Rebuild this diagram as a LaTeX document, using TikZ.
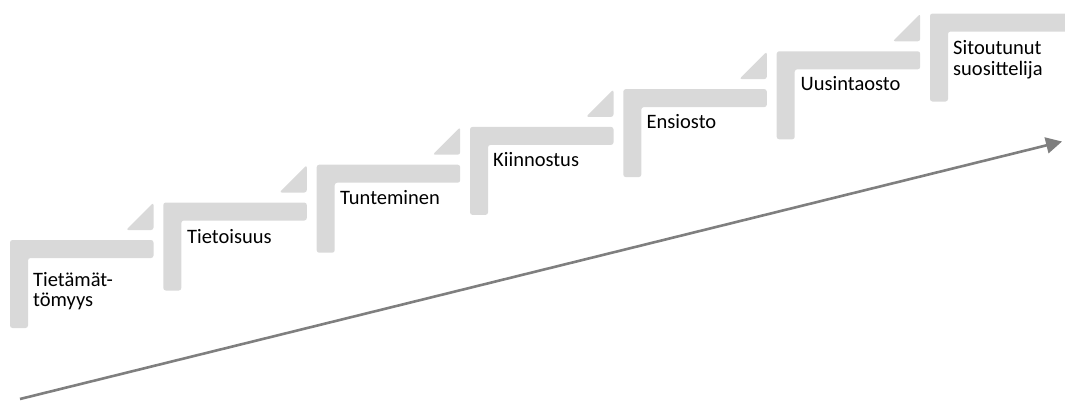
\documentclass[tikz,border=0pt]{standalone}
\usepackage{fontspec}
\setmainfont{Carlito}
\usetikzlibrary{arrows.meta}
\begin{document}
\begin{tikzpicture}[x=1pt,y=-1pt,
  stairfill/.style={fill=stairgray, draw=none, rounded corners=2.5pt},
  steplabel/.style={anchor=base west, inner sep=0pt, align=left, text=black,
    font=\fontsize{20.5}{20.5}\selectfont},
  growarrow/.style={draw=arrowgray, line width=2.6pt, -{Triangle[length=16pt,width=16pt]}}]
\definecolor{stairgray}{HTML}{D9D9D9}
\definecolor{arrowgray}{HTML}{7F7F7F}
\useasboundingbox (0,0) rectangle (1065,400);
\foreach \i/\X/\Y in {1/10/240,2/163.3/202.5,3/316.7/164.7,4/470/126.9,5/623.3/89.1,6/776.7/51.3,7/930/13.5}{
  \fill[stairfill] (\X,\Y) -- (\X+143.5,\Y) -- (\X+143.5,\Y+18) -- (\X+18,\Y+18) -- (\X+18,\Y+88) -- (\X,\Y+88) -- cycle;
}
\foreach \i/\X/\Y in {1/10/240,2/163.3/202.5,3/316.7/164.7,4/470/126.9,5/623.3/89.1,6/776.7/51.3}{
  \fill[stairfill] (\X+116,\Y-10) -- (\X+143.5,\Y-10) -- (\X+143.5,\Y-37.5) -- cycle;
}
\node[steplabel] (s1) at (33,306.5) {Tietämät-\\tömyys};
\node[steplabel] (s2) at (187,243.5) {Tietoisuus};
\node[steplabel] (s3) at (340,204) {Tunteminen};
\node[steplabel] (s4) at (493,166.5) {Kiinnostus};
\node[steplabel] (s5) at (646.5,128.3) {Ensiosto};
\node[steplabel] (s6) at (800.5,90) {Uusintaosto};
\node[steplabel] (s7) at (953,75) {Sitoutunut\\suosittelija};
\coordinate (a0) at (20,399);
\coordinate (a1) at (1062,141.5);
\draw[growarrow] (a0) -- (a1);
\end{tikzpicture}
\end{document}
